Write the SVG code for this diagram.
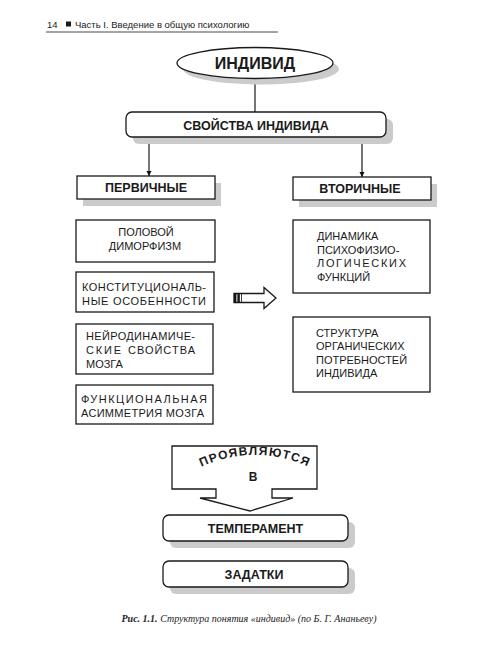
<svg xmlns="http://www.w3.org/2000/svg" width="480" height="650" viewBox="0 0 480 650">
<defs>
<marker id="ah" viewBox="0 0 10 10" refX="10" refY="5" markerWidth="5" markerHeight="6" orient="auto" markerUnits="userSpaceOnUse">
<path d="M0,0 L10,5 L0,10 Z" fill="#111"/>
</marker>
</defs>
<style>
.bx{fill:#fff;stroke:#1a1a1a;stroke-width:1.3}
.sh{fill:#cbcbcb;stroke:none}
.ln{stroke:#1a1a1a;stroke-width:1.2;fill:none}
.t{font-family:"Liberation Sans",Arial,sans-serif;fill:#1a1a1a}
.b{font-weight:bold}
.m{text-anchor:middle}
.r{font-size:11px}
.hb{font-size:12.5px;font-weight:bold}
.cap{font-family:"Liberation Serif","Times New Roman",serif;font-style:italic;font-size:10px;fill:#222}
</style>
<rect width="480" height="650" fill="#fff"/>

<g id="header">
<text class="t" x="47" y="28" font-size="9.5">14</text>
<rect x="66" y="21.5" width="5" height="5" fill="#1a1a1a"/>
<text class="t" x="75" y="28" font-size="9.5">Часть I. Введение в общую психологию</text>
<line x1="46" y1="32" x2="278" y2="32" stroke="#333" stroke-width="0.9"/>
</g>

<g id="connectors">
<line class="ln" x1="255" y1="78.5" x2="255" y2="112"/>
<line class="ln" x1="149" y1="137" x2="149" y2="176" marker-end="url(#ah)"/>
<line class="ln" x1="362" y1="137" x2="362" y2="177" marker-end="url(#ah)"/>
</g>

<g id="individ">
<ellipse class="sh" cx="261" cy="69" rx="78" ry="15.5"/>
<ellipse class="bx" cx="255" cy="63" rx="78" ry="15.5"/>
<text class="t b m" x="255" y="69" font-size="16">ИНДИВИД</text>
</g>

<g id="svoistva">
<rect class="sh" x="133" y="119" width="260" height="25" rx="6"/>
<rect class="bx" x="126" y="112" width="260" height="25" rx="6"/>
<text class="t hb m" x="256" y="129.5">СВОЙСТВА ИНДИВИДА</text>
</g>

<g id="pervichnye">
<rect class="sh" x="83" y="183" width="138" height="23"/>
<rect class="bx" x="77" y="176" width="138" height="23"/>
<text class="t hb m" x="146" y="192">ПЕРВИЧНЫЕ</text>
</g>

<g id="vtorichnye">
<rect class="sh" x="299" y="184" width="138" height="23"/>
<rect class="bx" x="293" y="177" width="138" height="23"/>
<text class="t hb m" x="360" y="193">ВТОРИЧНЫЕ</text>
</g>

<g id="polovoi">
<rect class="bx" x="76" y="220" width="139" height="42"/>
<text class="t r m" x="146" y="235.5">ПОЛОВОЙ</text>
<text class="t r m" x="145" y="250">ДИМОРФИЗМ</text>
</g>

<g id="konstit">
<rect class="bx" x="76" y="272" width="138" height="40"/>
<text class="t r" x="82" y="291" textLength="124" lengthAdjust="spacing">КОНСТИТУЦИОНАЛЬ-</text>
<text class="t r" x="82" y="305" textLength="124" lengthAdjust="spacing">НЫЕ ОСОБЕННОСТИ</text>
</g>

<g id="neirodin">
<rect class="bx" x="76" y="324" width="137" height="50"/>
<text class="t r" x="86" y="340" textLength="109" lengthAdjust="spacing">НЕЙРОДИНАМИЧЕ-</text>
<text class="t r" x="86" y="354" textLength="35" lengthAdjust="spacing">СКИЕ</text>
<text class="t r" x="128" y="354" textLength="67" lengthAdjust="spacing">СВОЙСТВА</text>
<text class="t r" x="86" y="368">МОЗГА</text>
</g>

<g id="funkc">
<rect class="bx" x="76" y="385" width="137" height="39"/>
<text class="t r" x="81" y="403" textLength="126" lengthAdjust="spacing">ФУНКЦИОНАЛЬНАЯ</text>
<text class="t r" x="81" y="417" textLength="123" lengthAdjust="spacing">АСИММЕТРИЯ МОЗГА</text>
</g>

<g id="dinamika">
<rect class="bx" x="293" y="220" width="137" height="73"/>
<text class="t r" x="317" y="240">ДИНАМИКА</text>
<text class="t r" x="317" y="253.5">ПСИХОФИЗИО-</text>
<text class="t r" x="317" y="267" textLength="89" lengthAdjust="spacing">ЛОГИЧЕСКИХ</text>
<text class="t r" x="317" y="281">ФУНКЦИЙ</text>
</g>

<g id="struktura">
<rect class="bx" x="293" y="317" width="137" height="75"/>
<text class="t r" x="316" y="336.5">СТРУКТУРА</text>
<text class="t r" x="316" y="350">ОРГАНИЧЕСКИХ</text>
<text class="t r" x="316" y="363.5">ПОТРЕБНОСТЕЙ</text>
<text class="t r" x="316" y="377">ИНДИВИДА</text>
</g>

<g id="arrow-right">
<polygon class="bx" points="234,293.5 264,293.5 264,287.5 276,298 264,308.5 264,302.5 234,302.5"/>
<rect x="234" y="293.5" width="2.4" height="9" fill="#111"/>
<rect x="237.4" y="293.5" width="2.4" height="9" fill="#111"/>
<line x1="241.5" y1="293.5" x2="241.5" y2="302.5" stroke="#111" stroke-width="0.8"/>
</g>

<g id="proyavlyayutsya">
<path class="bx" d="M172,446 L317,446 L317,489 L272,489 L272,498 L293,498 L250,511 L200,498 L216,498 L216,489 L172,489 Z"/>
<path id="arc" d="M195,470 A127,127 0 0 1 315,470" fill="none" stroke="none"/>
<text class="t b" font-size="12" letter-spacing="1.3"><textPath href="#arc" startOffset="50%" text-anchor="middle">ПРОЯВЛЯЮТСЯ</textPath></text>
<text class="t b m" x="253" y="481" font-size="12">В</text>
</g>

<g id="temperament">
<rect class="sh" x="170" y="522" width="185" height="26" rx="6"/>
<rect class="bx" x="163" y="515" width="185" height="26" rx="6"/>
<text class="t hb m" x="255.5" y="533">ТЕМПЕРАМЕНТ</text>
</g>

<g id="zadatki">
<rect class="sh" x="170" y="568" width="185" height="26" rx="6"/>
<rect class="bx" x="163" y="561" width="185" height="26" rx="6"/>
<text class="t hb m" x="254" y="579">ЗАДАТКИ</text>
</g>

<g id="caption">
<text class="cap" x="249" y="621.5" text-anchor="middle"><tspan font-weight="bold">Рис. 1.1.</tspan> Структура понятия «индивид» (по Б. Г. Ананьеву)</text>
</g>
</svg>
